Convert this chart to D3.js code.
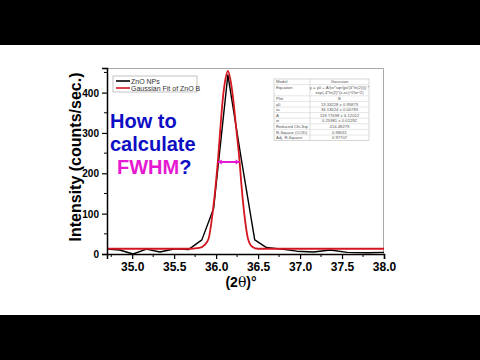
<!DOCTYPE html>
<html>
<head>
<meta charset="utf-8">
<script src="https://cdn.jsdelivr.net/npm/d3@7"></script>
<style>
  body { margin: 0; background: #fff; }
  svg { display: block; }
</style>
</head>
<body>
<div id="container"></div>
<script>
const WIDTH = 480;
const HEIGHT = 360;
const MARGIN = { TOP: 68, BOTTOM: 106, LEFT: 107, RIGHT: 96 };
const FONT = 'Liberation Sans, Arial, sans-serif';

const width = WIDTH - MARGIN.LEFT - MARGIN.RIGHT;
const height = HEIGHT - MARGIN.TOP - MARGIN.BOTTOM;

// measured scan (ZnO NPs)
const scanAngle  = [34.70, 34.85, 35.01, 35.17, 35.33, 35.51, 35.67, 35.83, 35.97, 36.14, 36.30, 36.46, 36.60, 36.78, 36.96, 37.16, 37.36, 37.56, 37.80, 38.00];
const scanCounts = [12, 10, 0, 12, 5, 13, 11, 35, 113, 444, 235, 35, 16, 12, 7, 5, 10, 4, 3, 4];

// gaussian fit
const fitAngle  = [34.70, 35.70, 35.80, 35.86, 35.91, 35.96, 35.99, 36.02, 36.05, 36.08, 36.11, 36.14, 36.17, 36.20, 36.24, 36.28, 36.30, 36.33, 36.38, 36.43, 36.50, 38.00];
const fitCounts = [13, 13, 15, 22, 38, 105, 160, 228, 310, 385, 432, 454, 432, 390, 310, 228, 175, 110, 38, 18, 13, 13];

const xTicks = [35.0, 35.5, 36.0, 36.5, 37.0, 37.5, 38.0];
const xMinor = [34.75, 35.25, 35.75, 36.25, 36.75, 37.25, 37.75];
const yTicks = [0, 100, 200, 300, 400];
const yMinor = [50, 150, 250, 350, 450];

const seriesNames = ['ZnO NPs', 'Gaussian Fit of ZnO B'];
const seriesColors = ['#000000', '#d4161f'];

const fwhmAngle = [36.02, 36.28];
const fwhmLevel = 228;

const tableLabels = ['Model', 'Equation', '', 'Plot', 'y0', 'xc', 'A', 'w', 'Reduced Chi-Sqr', 'R-Square (COD)', 'Adj. R-Square'];
const tableValues = ['Gaussian', 'y = y0 + A/(w*sqrt(pi/(4*ln(2)))) *', 'exp(-4*ln(2)*(x-xc)^2/w^2)', 'B',
                     '13.33228 ± 0.95873', '36.13624 ± 0.00783', '119.77698 ± 6.12012', '0.25981 ± 0.01292',
                     '414.48279', '0.98011', '0.97707'];

const svg = d3.select('#container')
              .append('svg')
                .attr('width', WIDTH)
                .attr('height', HEIGHT);

svg.append('rect').attr('width', WIDTH).attr('height', HEIGHT).attr('fill', '#fff');

const container = svg.append('g')
                     .attr('transform', `translate(${MARGIN.LEFT}, ${MARGIN.TOP})`);

const xscale = d3.scaleLinear().domain([34.7, 38.0]).range([0, width]);
const yscale = d3.scaleLinear().domain([0, 461]).range([height, 0]);

// frame top / right
container.append('path')
         .attr('d', `M0,0.5H${width - 0.5}V${height}`)
         .attr('fill', 'none')
         .attr('stroke', '#aaa')
         .attr('stroke-width', 1);

// curves
const line = (xs, ys, curve) => d3.line()
                                  .x((d, i) => xscale(xs[i]))
                                  .y(d => yscale(d))
                                  .curve(curve)(ys);

container.append('path')
         .attr('d', line(scanAngle, scanCounts, d3.curveLinear))
         .attr('fill', 'none')
         .attr('stroke', seriesColors[0])
         .attr('stroke-width', 1.4)
         .attr('stroke-linejoin', 'round');

container.append('path')
         .attr('d', line(fitAngle, fitCounts, d3.curveMonotoneX))
         .attr('fill', 'none')
         .attr('stroke', seriesColors[1])
         .attr('stroke-width', 1.8)
         .attr('stroke-linejoin', 'round');

// axes
const axisBottom = d3.axisBottom(xscale).tickValues(xTicks).tickSize(5).tickPadding(3)
                     .tickFormat(d3.format('.1f'));
const axisLeft = d3.axisLeft(yscale).tickValues(yTicks).tickSize(5).tickPadding(3);

const gx = container.append('g')
                    .attr('transform', `translate(0, ${height})`)
                    .call(axisBottom);
gx.selectAll('.tick').data(xMinor).enter(); // keep majors only
gx.append('g').selectAll('line').data(xMinor).enter().append('line')
  .attr('x1', d => xscale(d)).attr('x2', d => xscale(d))
  .attr('y1', 0).attr('y2', 3).attr('stroke', '#000');

const gy = container.append('g').call(axisLeft);
gy.append('g').selectAll('line').data(yMinor).enter().append('line')
  .attr('y1', d => yscale(d)).attr('y2', d => yscale(d))
  .attr('x1', 0).attr('x2', -3).attr('stroke', '#000');

[gx, gy].forEach(g => {
  g.select('.domain').attr('stroke-width', 1.5);
  g.selectAll('.tick line').attr('stroke-width', 1.2);
  g.selectAll('.tick text')
   .attr('font-family', FONT).attr('font-weight', 'bold').attr('fill', '#000');
});
gx.selectAll('.tick text').attr('font-size', 12);
gy.selectAll('.tick text').attr('font-size', 10).attr('dy', '0.35em');

// axis titles
svg.append('text')
   .attr('transform', `translate(81, ${MARGIN.TOP + 89}) rotate(-90)`)
   .attr('text-anchor', 'middle')
   .attr('font-family', FONT).attr('font-weight', 'bold').attr('font-size', 16)
   .text('Intensity (counts/sec.)');

const xt = svg.append('text')
              .attr('x', 241).attr('y', 287)
              .attr('text-anchor', 'middle')
              .attr('font-family', FONT).attr('font-weight', 'bold').attr('font-size', 14);
xt.append('tspan').text('(2');
xt.append('tspan').attr('font-family', 'DejaVu Serif, serif').attr('font-weight', 'normal').text('θ');
xt.append('tspan').text(')°');

// legend
const legend = container.append('g').attr('transform', 'translate(6, 8)');
legend.append('rect')
      .attr('width', 84).attr('height', 16)
      .attr('fill', '#fff').attr('stroke', '#999').attr('stroke-width', 0.6);
seriesNames.forEach((name, i) => {
  legend.append('line')
        .attr('x1', 3).attr('x2', 17).attr('y1', 5 + i * 7).attr('y2', 5 + i * 7)
        .attr('stroke', seriesColors[i]).attr('stroke-width', 1.6);
  legend.append('text')
        .attr('x', 18).attr('y', 7.5 + i * 7)
        .attr('font-family', FONT).attr('font-size', 7).attr('fill', '#333')
        .text(name);
});

// fit results table
const ROW = 5.6;
const table = svg.append('g').attr('transform', 'translate(274, 79)');
table.append('rect')
     .attr('width', 95).attr('height', ROW * tableLabels.length)
     .attr('fill', '#fff').attr('stroke', '#bbb').attr('stroke-width', 0.6);
table.append('line')
     .attr('x1', 36).attr('x2', 36).attr('y1', 0).attr('y2', ROW * tableLabels.length)
     .attr('stroke', '#bbb').attr('stroke-width', 0.5);
tableLabels.forEach((lab, i) => {
  if (i > 0 && i !== 2) {
    table.append('line')
         .attr('x1', 0).attr('x2', 95).attr('y1', i * ROW).attr('y2', i * ROW)
         .attr('stroke', '#ccc').attr('stroke-width', 0.5);
  }
  table.append('text')
       .attr('x', 2).attr('y', i * ROW + 4.2)
       .attr('font-family', FONT).attr('font-size', 4.2).attr('fill', '#555')
       .text(lab);
  table.append('text')
       .attr('x', 65.5).attr('y', i * ROW + 4.2)
       .attr('text-anchor', 'middle')
       .attr('font-family', FONT).attr('font-size', 4.2).attr('fill', '#555')
       .text(tableValues[i]);
});

// FWHM marker
const MAG = '#e619d2';
const fy = yscale(fwhmLevel);
const fx0 = xscale(fwhmAngle[0]);
const fx1 = xscale(fwhmAngle[1]);
container.append('line')
         .attr('x1', fx0).attr('x2', fx1).attr('y1', fy).attr('y2', fy)
         .attr('stroke', MAG).attr('stroke-width', 2);
container.append('path')
         .attr('d', `M${fx0},${fy}l4,-2.5v5z M${fx1},${fy}l-4,-2.5v5z`)
         .attr('fill', MAG);

// overlay question
const q = svg.append('g')
             .attr('font-family', FONT).attr('font-weight', 'bold').attr('font-size', 20);
q.append('text').attr('x', 110).attr('y', 128).attr('fill', '#0d0dc4').text('How to');
q.append('text').attr('x', 110).attr('y', 151).attr('fill', '#0d0dc4').text('calculate');
const f = q.append('text').attr('x', 117).attr('y', 174);
f.append('tspan').attr('fill', MAG).text('FWHM');
f.append('tspan').attr('fill', '#0d0dc4').text('?');

// letterbox bars
svg.append('rect').attr('x', 0).attr('y', 0).attr('width', WIDTH).attr('height', 45).attr('fill', '#000');
svg.append('rect').attr('x', 0).attr('y', 315).attr('width', WIDTH).attr('height', 45).attr('fill', '#000');
</script>
</body>
</html>
